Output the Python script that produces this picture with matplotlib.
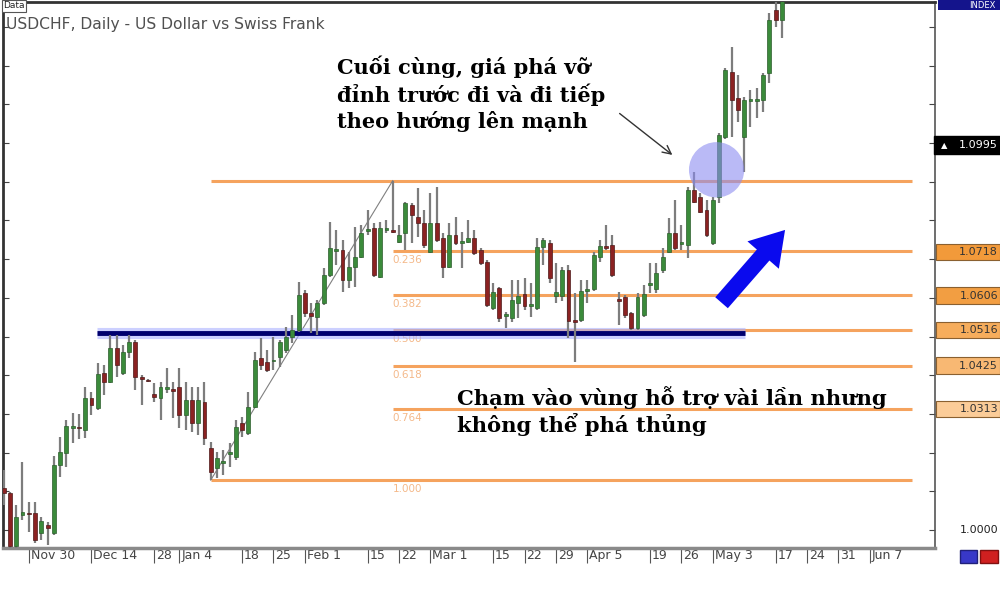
import matplotlib
matplotlib.use('Agg')
import matplotlib.pyplot as plt
import matplotlib.patches as mpatches
import matplotlib.transforms as mtransforms
import numpy as np
import pandas as pd

# daily USDCHF candles, 24 Nov 2009 .. 18 May 2010
opens = [1.0109, 1.0096, 0.9959, 1.0039, 1.0044, 1.0044, 0.9992, 1.0013, 0.9992, 1.0168,
         1.0199, 1.0264, 1.0266, 1.0259, 1.0341, 1.0315, 1.0406, 1.0383, 1.0470, 1.0406,
         1.0460, 1.0486, 1.0396, 1.0388, 1.0352, 1.0341, 1.0365, 1.0365, 1.0370, 1.0297,
         1.0336, 1.0277, 1.0331, 1.0212, 1.0160, 1.0173, 1.0196, 1.0189, 1.0277, 1.0251,
         1.0318, 1.0445, 1.0434, 1.0437, 1.0447, 1.0465, 1.0499, 1.0517, 1.0613, 1.0561,
         1.0551, 1.0587, 1.0659, 1.0721, 1.0724, 1.0646, 1.0680, 1.0706, 1.0773, 1.0781,
         1.0654, 1.0776, 1.0776, 1.0745, 1.0768, 1.0840, 1.0809, 1.0794, 1.0719, 1.0794,
         1.0755, 1.0680, 1.0763, 1.0742, 1.0745, 1.0755, 1.0724, 1.0693, 1.0574, 1.0626,
         1.0553, 1.0548, 1.0587, 1.0610, 1.0579, 1.0574, 1.0732, 1.0742, 1.0605, 1.0605,
         1.0672, 1.0543, 1.0543, 1.0618, 1.0623, 1.0706, 1.0734, 1.0737, 1.0597, 1.0602,
         1.0561, 1.0522, 1.0556, 1.0633, 1.0623, 1.0672, 1.0719, 1.0768, 1.0739, 1.0737,
         1.0879, 1.0861, 1.0827, 1.0742, 1.0861, 1.1016, 1.1184, 1.1117, 1.1016, 1.1109,
         1.1109, 1.1112, 1.1181, 1.1344, 1.1318]
highs = [1.0155, 1.0098, 1.0065, 1.0176, 1.0072, 1.0072, 1.0034, 1.0021, 1.0191, 1.0240,
         1.0284, 1.0302, 1.0300, 1.0370, 1.0357, 1.0432, 1.0427, 1.0504, 1.0504, 1.0478,
         1.0504, 1.0491, 1.0401, 1.0391, 1.0380, 1.0383, 1.0419, 1.0383, 1.0419, 1.0383,
         1.0370, 1.0370, 1.0383, 1.0227, 1.0202, 1.0207, 1.0225, 1.0284, 1.0292, 1.0357,
         1.0460, 1.0496, 1.0465, 1.0499, 1.0491, 1.0525, 1.0556, 1.0641, 1.0620, 1.0587,
         1.0595, 1.0677, 1.0796, 1.0776, 1.0750, 1.0719, 1.0783, 1.0788, 1.0827, 1.0794,
         1.0796, 1.0801, 1.0903, 1.0788, 1.0848, 1.0845, 1.0884, 1.0827, 1.0871, 1.0887,
         1.0768, 1.0794, 1.0809, 1.0770, 1.0801, 1.0776, 1.0729, 1.0698, 1.0638, 1.0628,
         1.0564, 1.0646, 1.0646, 1.0651, 1.0638, 1.0755, 1.0755, 1.0750, 1.0690, 1.0680,
         1.0685, 1.0613, 1.0646, 1.0646, 1.0719, 1.0750, 1.0788, 1.0763, 1.0615, 1.0607,
         1.0564, 1.0613, 1.0633, 1.0690, 1.0690, 1.0729, 1.0807, 1.0853, 1.0788, 1.0887,
         1.0925, 1.0871, 1.0853, 1.0861, 1.1026, 1.1194, 1.1249, 1.1176, 1.1119, 1.1137,
         1.1143, 1.1181, 1.1336, 1.1383, 1.1396]
lows = [1.0065, 0.9948, 0.9948, 1.0026, 0.9995, 0.9966, 0.9974, 0.9961, 0.9987, 1.0137,
        1.0163, 1.0225, 1.0235, 1.0238, 1.0297, 1.0310, 1.0349, 1.0380, 1.0396, 1.0401,
        1.0445, 1.0362, 1.0323, 1.0383, 1.0331, 1.0284, 1.0354, 1.0290, 1.0264, 1.0259,
        1.0253, 1.0246, 1.0220, 1.0129, 1.0134, 1.0142, 1.0163, 1.0181, 1.0240, 1.0246,
        1.0315, 1.0414, 1.0408, 1.0414, 1.0421, 1.0458, 1.0483, 1.0512, 1.0551, 1.0509,
        1.0504, 1.0582, 1.0654, 1.0685, 1.0615, 1.0626, 1.0628, 1.0703, 1.0763, 1.0654,
        1.0651, 1.0768, 1.0768, 1.0742, 1.0724, 1.0742, 1.0757, 1.0729, 1.0716, 1.0745,
        1.0651, 1.0677, 1.0737, 1.0677, 1.0742, 1.0711, 1.0685, 1.0576, 1.0569, 1.0538,
        1.0522, 1.0538, 1.0548, 1.0569, 1.0551, 1.0569, 1.0685, 1.0638, 1.0587, 1.0592,
        1.0496, 1.0434, 1.0538, 1.0587, 1.0618, 1.0693, 1.0724, 1.0654, 1.0530, 1.0548,
        1.0517, 1.0517, 1.0551, 1.0613, 1.0613, 1.0664, 1.0716, 1.0724, 1.0724, 1.0703,
        1.0845, 1.0819, 1.0757, 1.0737, 1.0845, 1.1011, 1.1016, 1.1055, 1.0925, 1.1042,
        1.1065, 1.1081, 1.1156, 1.1300, 1.1272]
closes = [1.0096, 0.9959, 1.0034, 1.0047, 1.0041, 0.9974, 1.0023, 1.0005, 1.0168, 1.0202,
          1.0269, 1.0269, 1.0264, 1.0341, 1.0323, 1.0403, 1.0383, 1.0470, 1.0427, 1.0460,
          1.0486, 1.0396, 1.0390, 1.0386, 1.0344, 1.0370, 1.0370, 1.0359, 1.0297, 1.0336,
          1.0277, 1.0336, 1.0238, 1.0150, 1.0186, 1.0178, 1.0202, 1.0266, 1.0259, 1.0318,
          1.0439, 1.0427, 1.0414, 1.0439, 1.0486, 1.0499, 1.0517, 1.0607, 1.0561, 1.0553,
          1.0587, 1.0659, 1.0729, 1.0726, 1.0646, 1.0680, 1.0706, 1.0768, 1.0778, 1.0659,
          1.0781, 1.0781, 1.0770, 1.0763, 1.0845, 1.0814, 1.0794, 1.0737, 1.0794, 1.0750,
          1.0680, 1.0763, 1.0742, 1.0747, 1.0755, 1.0716, 1.0690, 1.0582, 1.0615, 1.0548,
          1.0558, 1.0595, 1.0605, 1.0579, 1.0584, 1.0732, 1.0750, 1.0651, 1.0615, 1.0672,
          1.0540, 1.0538, 1.0618, 1.0623, 1.0711, 1.0734, 1.0729, 1.0659, 1.0592, 1.0556,
          1.0522, 1.0602, 1.0610, 1.0638, 1.0664, 1.0706, 1.0768, 1.0729, 1.0745, 1.0879,
          1.0848, 1.0822, 1.0763, 1.0853, 1.1021, 1.1189, 1.1112, 1.1086, 1.1112, 1.1114,
          1.1114, 1.1176, 1.1318, 1.1318, 1.1383]

tick_dates = ['2009-11-30', '2009-12-14', '2009-12-28', '2010-01-04', '2010-01-18',
              '2010-01-25', '2010-02-01', '2010-02-15', '2010-02-22', '2010-03-01',
              '2010-03-15', '2010-03-22', '2010-03-29', '2010-04-05', '2010-04-19',
              '2010-04-26', '2010-05-03', '2010-05-17', '2010-05-24', '2010-05-31',
              '2010-06-07']
tick_labels = ['Nov 30', 'Dec 14', '28', 'Jan 4', '18', '25', 'Feb 1', '15', '22',
               'Mar 1', '15', '22', '29', 'Apr 5', '19', '26', 'May 3', '17', '24',
               '31', 'Jun 7']

fib_high = 1.0903
fib_low = 1.0129
fib_ratios = [0.236, 0.382, 0.500, 0.618, 0.764, 1.000]
support = 1.0510
last_price = 1.0995
box_prices = ['1.0718', '1.0606', '1.0516', '1.0425', '1.0313']

note_top = 'Cuối cùng, giá phá vỡ\nđỉnh trước đi và đi tiếp\ntheo hướng lên mạnh'
note_bottom = 'Chạm vào vùng hỗ trợ vài lần nhưng\nkhông thể phá thủng'

# trading days (new year's day has no bar)
days = pd.bdate_range('2009-11-24', '2010-06-11')
days = days[days != pd.Timestamp('2010-01-01')]
tick_pos = [days.get_loc(pd.Timestamp(d)) for d in tick_dates]

o = np.array(opens); h = np.array(highs); l = np.array(lows); c = np.array(closes)
x = np.arange(len(o))

fig = plt.figure(figsize=(10, 6), dpi=100, facecolor='white')
ax = fig.add_axes([0.003, 1 - 548/600, 0.932, 546/600])
ax.set_xlim(-0.1, 148.4)
ax.set_ylim(0.99535, 1.13647)

# fibonacci levels
fib_col = '#f5a35e'
ax.hlines(fib_high, 33, 144.7, color=fib_col, lw=2.2, zorder=1)
for r in fib_ratios:
    lev = fib_high - r*(fib_high - fib_low)
    x0 = 33 if r == 1.0 else 62
    ax.hlines(lev, x0, 144.7, color=fib_col, lw=2.2, zorder=1)
    off = mtransforms.ScaledTranslation(0, -4/100, fig.dpi_scale_trans)
    ax.text(62, lev, f'{r:.3f}', color='#f4b98a', fontsize=7.5, va='top', ha='left',
            transform=ax.transData + off, zorder=1)
ax.plot([33, 62], [fib_low, fib_high], color='#808080', lw=0.8, zorder=2)

# support line
ax.hlines(support, 14.8, 118.1, color='#aab2ff', lw=8, alpha=0.6, zorder=2)
ax.hlines(support, 14.8, 118.1, color='#00006e', lw=3.5, zorder=2)

# candles
up = c >= o
ax.vlines(x, l, h, color='#7d7d7d', lw=1.6, zorder=3)
body = np.maximum(np.abs(c - o), 0.0003)
ax.bar(x[up], body[up], bottom=o[up], width=0.62, color='#3b8b3b', edgecolor='#2d5e2d', lw=0.5, zorder=4)
ax.bar(x[~up], body[~up], bottom=c[~up], width=0.62, color='#8b2222', edgecolor='#4d1a1a', lw=0.5, zorder=4)

# breakout circle
ax.add_patch(mpatches.Ellipse((113.6, 1.0931), 8.8, 0.0143, color='#8c8cf0', alpha=0.6, lw=0, zorder=5))

# arrows
ax.annotate('', xy=(106.9, 1.0965), xytext=(97.8, 1.1081),
            arrowprops=dict(arrowstyle='->,head_length=0.6,head_width=0.3', color='#333333', lw=1))
ax.annotate('', xy=(124.8, 1.0781), xytext=(114.1, 1.0582),
            arrowprops=dict(arrowstyle='simple,head_length=1.2,head_width=1.5,tail_width=0.6',
                            mutation_scale=20, color='#0a0aee', lw=0), zorder=6)

serif = ['DejaVu Serif', 'Liberation Serif']
fig.text(0.337, 1 - 55/600, note_top, family=serif, fontweight='bold', fontsize=15,
         va='top', ha='left', linespacing=1.32)
fig.text(0.457, 1 - 386/600, note_bottom, family=serif, fontweight='bold', fontsize=15.2,
         va='top', ha='left', linespacing=1.2)

# axes look
for s in ['left', 'top']:
    ax.spines[s].set_color('#333333'); ax.spines[s].set_linewidth(2)
ax.spines['right'].set_color('#555555'); ax.spines['right'].set_linewidth(1.2)
ax.spines['bottom'].set_color('#8a8a8a'); ax.spines['bottom'].set_linewidth(2.5)
ax.set_yticks(np.arange(1.0, 1.135, 0.01))
ax.tick_params(axis='y', direction='in', left=True, right=True, labelleft=False, length=4, color='#444444')
ax.set_xticks(tick_pos)
ax.set_xticklabels(tick_labels)
ax.tick_params(axis='x', direction='out', length=11, pad=-10, color='#555555', labelsize=9, labelcolor='#444444')
for lab in ax.get_xticklabels():
    lab.set_ha('left')
    lab.set_transform(lab.get_transform() + mtransforms.ScaledTranslation(2/100, 0, fig.dpi_scale_trans))

# title
fig.text(0.006, 1 - 25/600, 'USDCHF, Daily - US Dollar vs Swiss Frank', fontsize=11.2,
         color='#505050', va='center')
fig.text(0.003, 1 - 6/600, 'Data', fontsize=6.5, color='#222222', va='center',
         bbox=dict(facecolor='white', edgecolor='#555555', pad=1, lw=0.8))

# right price panel
bt = mtransforms.blended_transform_factory(fig.transFigure, ax.transData)
box_cols = ['#f29a3a', '#f29e42', '#f6ad5c', '#f8b873', '#fbcc98']
for p, col in zip(box_prices, box_cols):
    v = float(p)
    fig.add_artist(mpatches.Rectangle((0.936, v - 0.0021), 0.064, 0.0042, transform=bt,
                                      facecolor=col, edgecolor='#8a6030', lw=0.8))
    fig.text(0.998, v, p, transform=bt, ha='right', va='center', fontsize=8, color='#333333')
fig.add_artist(mpatches.Rectangle((0.934, last_price - 0.0023), 0.066, 0.0046, transform=bt,
                                  facecolor='black', edgecolor='black'))
fig.text(0.941, last_price, '▲', transform=bt, ha='left', va='center', fontsize=6, color='white')
fig.text(0.998, last_price, f'{last_price:.4f}', transform=bt, ha='right', va='center',
         fontsize=8, color='white')
fig.text(0.998, 1.0, '1.0000', transform=bt, ha='right', va='center', fontsize=8, color='#222222')
fig.add_artist(mpatches.Rectangle((0.938, 1 - 10/600), 0.062, 10/600, transform=fig.transFigure,
                                  facecolor='#14148c', edgecolor='none'))
fig.text(0.996, 1 - 5/600, 'INDEX', ha='right', va='center', fontsize=6, color='white')
fig.add_artist(mpatches.Rectangle((0.960, 1 - 563/600), 0.017, 13/600, transform=fig.transFigure,
                                  facecolor='#3838c8', edgecolor='#20207a'))
fig.add_artist(mpatches.Rectangle((0.980, 1 - 563/600), 0.018, 13/600, transform=fig.transFigure,
                                  facecolor='#d02020', edgecolor='#801010'))

fig.savefig('out.png', dpi=100, facecolor='white')
